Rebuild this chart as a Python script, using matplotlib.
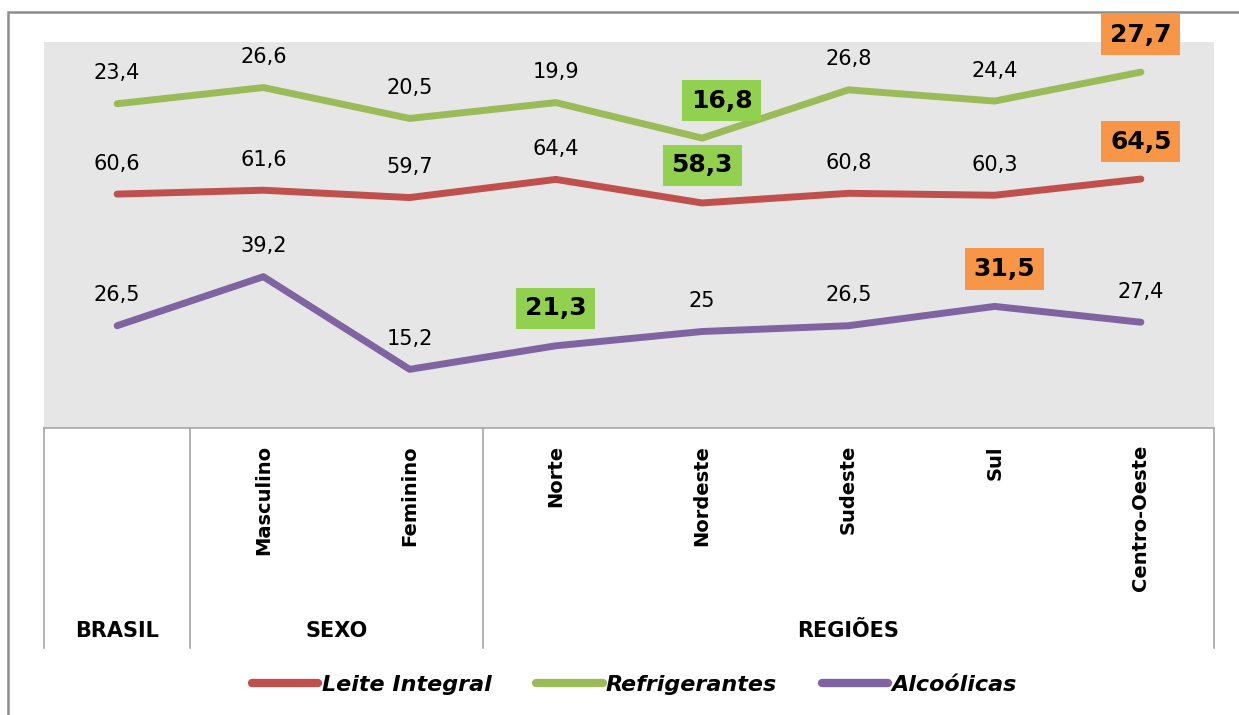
import numpy as np
import matplotlib.pyplot as plt
from matplotlib.patches import Rectangle
from matplotlib.lines import Line2D

# Data
categorias = ['BRASIL', 'Masculino', 'Feminino', 'Norte', 'Nordeste',
              'Sudeste', 'Sul', 'Centro-Oeste']
grupos = ['BRASIL', 'SEXO', 'REGIÕES']
grupo_tamanho = [1, 2, 5]
leite = [60.6, 61.6, 59.7, 64.4, 58.3, 60.8, 60.3, 64.5]
refrigerantes = [23.4, 26.6, 20.5, 19.9, 16.8, 26.8, 24.4, 27.7]
alcoolicas = [26.5, 39.2, 15.2, 21.3, 25, 26.5, 31.5, 27.4]

# highlighted labels: (serie, index) -> colour kind
minimos = {('leite', 4), ('refrig', 4), ('alc', 3)}
maximos = {('leite', 7), ('refrig', 7), ('alc', 6)}

c_leite = '#C0504D'
c_refrig = '#9BBB59'
c_alc = '#8064A2'
c_min = '#92D050'
c_max = '#F79646'

W, H = 1239, 715
fig = plt.figure(figsize=(W / 100, H / 100), dpi=100)
ax = fig.add_axes([44 / W, 1 - 428 / H, 1170 / W, 386 / H])
ax.set_facecolor('#E6E6E6')
ax.set_xlim(-0.5, 7.5)
ax.set_ylim(0, 100)
ax.set_xticks([])
ax.set_yticks([])
for s in ax.spines.values():
    s.set_visible(False)

x = np.arange(len(categorias))
# Excel stacked line: refrigerantes sits on top of leite
refrig_stack = np.array(leite) + np.array(refrigerantes)

series = [
    ('leite', leite, leite, c_leite),
    ('refrig', refrig_stack, refrigerantes, c_refrig),
    ('alc', alcoolicas, alcoolicas, c_alc),
]
for nome, ypos, vals, cor in series:
    ax.plot(x, ypos, color=cor, lw=5, solid_capstyle='round',
            solid_joinstyle='round', zorder=3)
    for i, (yy, v) in enumerate(zip(ypos, vals)):
        txt = f'{v:g}'.replace('.', ',')
        if (nome, i) in minimos or (nome, i) in maximos:
            fc = c_min if (nome, i) in minimos else c_max
            dx = 14 if (nome, i) == ('refrig', 4) else (7 if (nome, i) == ('alc', 6) else 0)
            ax.annotate(txt, (x[i], yy), xytext=(dx, 27), textcoords='offset points',
                        ha='center', va='center', fontsize=18, fontweight='bold',
                        color='black', zorder=5,
                        bbox=dict(boxstyle='square,pad=0.35', fc=fc, ec='none'))
        else:
            ax.annotate(txt, (x[i], yy), xytext=(0, 22), textcoords='offset points',
                        ha='center', va='center', fontsize=15, color='black', zorder=5)

# category table below the plot
tr = ax.get_xaxis_transform()
linha = '#A6A6A6'
ax.plot([-0.5, 7.5], [0, 0], transform=tr, color=linha, lw=1.2, clip_on=False)
bordas = np.concatenate([[0], np.cumsum(grupo_tamanho)]) - 0.5
fundo = -(648 - 428) / 386
for b in bordas:
    ax.plot([b, b], [0, fundo], transform=tr, color=linha, lw=1.2, clip_on=False)

for i, cat in enumerate(categorias):
    if i == 0:
        continue
    ax.text(x[i], -(445 - 428) / 386, cat, transform=tr, rotation=90,
            ha='center', va='top', fontsize=14, fontweight='bold')

y_grupo = -(631 - 428) / 386
for g, a, b in zip(grupos, bordas[:-1], bordas[1:]):
    ax.text((a + b) / 2, y_grupo, g, transform=tr, ha='center', va='center',
            fontsize=15, fontweight='bold')

# legend
handles = [Line2D([], [], color=c, lw=6, solid_capstyle='round')
           for c in (c_leite, c_refrig, c_alc)]
fig.legend(handles, ['Leite Integral', 'Refrigerantes', 'Alcoólicas'],
           loc='center', bbox_to_anchor=(0.512, 1 - 685 / H), ncol=3,
           frameon=False, handlelength=3.0, handletextpad=0.15,
           columnspacing=2.0,
           prop=dict(size=16, weight='bold', style='italic'))

# outer chart border (cropped at right and bottom)
fig.patches.append(Rectangle((8 / W, -0.1), 1.5, (H - 12) / H + 0.1,
                             transform=fig.transFigure, fill=False,
                             ec='#8C8C8C', lw=1.8))

fig.savefig('out.png', dpi=100)
